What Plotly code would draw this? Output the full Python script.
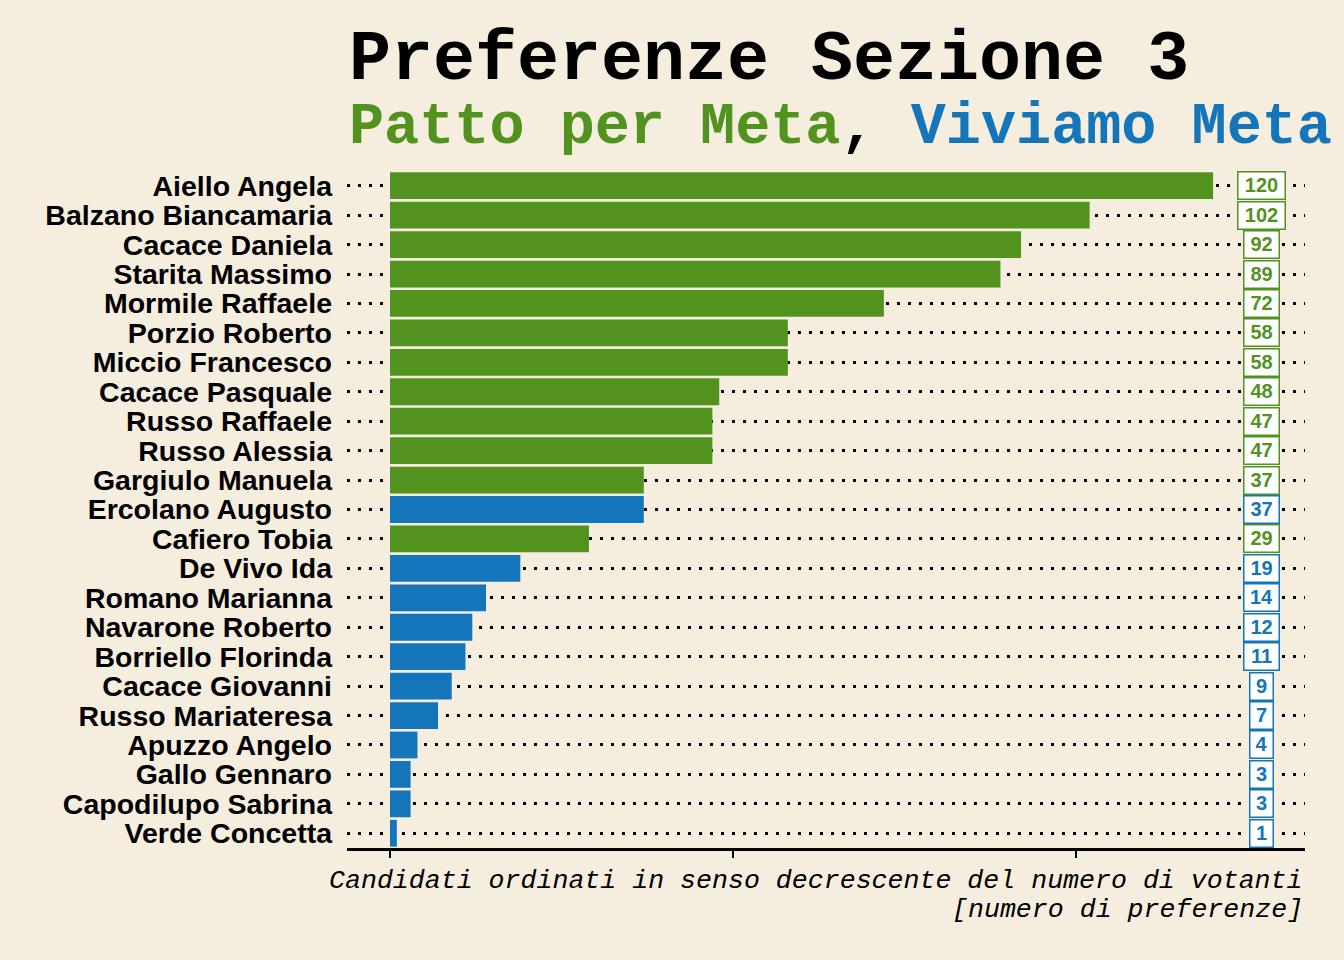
import plotly.graph_objects as go

# dati: candidati, preferenze, lista
candidati = [
    "Aiello Angela", "Balzano Biancamaria", "Cacace Daniela", "Starita Massimo",
    "Mormile Raffaele", "Porzio Roberto", "Miccio Francesco", "Cacace Pasquale",
    "Russo Raffaele", "Russo Alessia", "Gargiulo Manuela", "Ercolano Augusto",
    "Cafiero Tobia", "De Vivo Ida", "Romano Marianna", "Navarone Roberto",
    "Borriello Florinda", "Cacace Giovanni", "Russo Mariateresa", "Apuzzo Angelo",
    "Gallo Gennaro", "Capodilupo Sabrina", "Verde Concetta",
]
preferenze = [120, 102, 92, 89, 72, 58, 58, 48, 47, 47, 37, 37,
              29, 19, 14, 12, 11, 9, 7, 4, 3, 3, 1]
lista = ["P", "P", "P", "P", "P", "P", "P", "P", "P", "P", "P", "V",
         "P", "V", "V", "V", "V", "V", "V", "V", "V", "V", "V"]
x_ticks = [0, 50, 100]

GREEN = "#52931f"
BLUE = "#1475bb"
BG = "#f5eedf"
colori = {"P": GREEN, "V": BLUE}
bar_colors = [colori[l] for l in lista]

LABEL_X = 127
MONO = "Courier New, Liberation Mono, monospace"
SANS = "Liberation Sans, Arial, Helvetica, sans-serif"

fig = go.Figure()
fig.add_trace(go.Bar(
    x=preferenze, y=candidati, orientation="h",
    marker=dict(color=bar_colors, line=dict(width=0)),
    hoverinfo="x+y", showlegend=False))

# etichette con il numero di preferenze
for c, v, l in zip(candidati, preferenze, lista):
    fig.add_annotation(
        x=LABEL_X, y=c, xref="x", yref="y", text=str(v), showarrow=False,
        font=dict(family=SANS, size=20, color=colori[l], weight="bold"),
        bgcolor="white", bordercolor=colori[l], borderwidth=1.5, borderpad=2,
        width=12 * len(str(v)) + 6, height=21.5, align="center")

fig.add_annotation(
    x=0, y=1.163, xref="paper", yref="paper", xanchor="left", yanchor="middle",
    text="Preferenze Sezione 3", showarrow=False,
    font=dict(family=MONO, size=70, color="black", weight="bold"))
fig.add_annotation(
    x=0, y=1.064, xref="paper", yref="paper", xanchor="left", yanchor="middle",
    text="<span style='color:%s'>Patto per Meta</span>, "
         "<span style='color:%s'>Viviamo Meta</span>" % (GREEN, BLUE),
    showarrow=False,
    font=dict(family=MONO, size=58.5, color="black", weight="bold"))
fig.add_annotation(
    x=1, y=-0.049, xref="paper", yref="paper", xanchor="right", yanchor="middle",
    text="<i>Candidati ordinati in senso decrescente del numero di votanti</i>",
    showarrow=False, font=dict(family=MONO, size=26.6, color="black"))
fig.add_annotation(
    x=1, y=-0.091, xref="paper", yref="paper", xanchor="right", yanchor="middle",
    text="<i>[numero di preferenze]</i>",
    showarrow=False, font=dict(family=MONO, size=26.6, color="black"))

fig.update_layout(
    width=1344, height=960,
    paper_bgcolor=BG, plot_bgcolor=BG,
    margin=dict(l=347, r=39, t=171, b=112),
    bargap=0.09)
fig.update_xaxes(
    range=[-6.27, 133.4], tickvals=x_ticks, showticklabels=False,
    ticks="outside", ticklen=7, tickwidth=2, tickcolor="black",
    showline=True, linewidth=3, linecolor="black",
    showgrid=False, zeroline=False, fixedrange=True)
fig.update_yaxes(
    range=[len(candidati) - 0.5, -0.5], categoryorder="array",
    categoryarray=candidati, tickmode="array",
    tickvals=candidati, ticktext=candidati,
    showline=False, ticks="",
    showgrid=True, gridcolor="black", gridwidth=2.5, griddash="3px,8px",
    tickfont=dict(family=SANS, size=28.5, color="black", weight="bold"),
    ticklabelstandoff=14, fixedrange=True)

fig.write_html("out.html", config={"displayModeBar": False},
               post_script="document.body.style.margin='0px';")
